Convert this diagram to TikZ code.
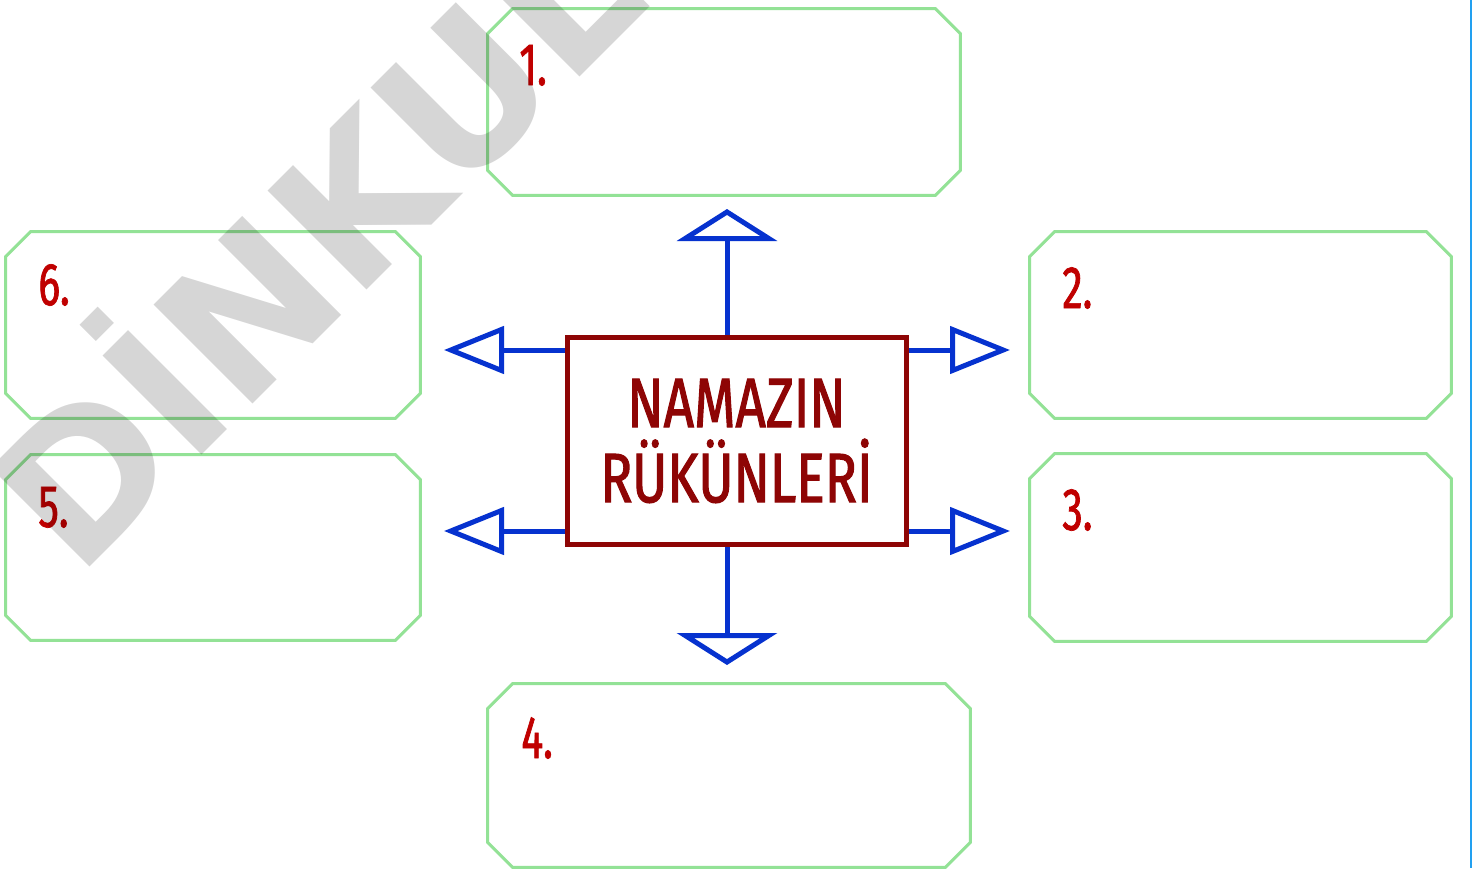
\documentclass[tikz,border=0pt]{standalone}
\usepackage{fontspec}
\setmainfont{Fira Sans}
\newfontfamily\titlefont[FakeStretch=0.76,FakeBold=1.5]{Fira Sans}
\newfontfamily\numfont[FakeStretch=0.68,FakeBold=1.2]{Fira Sans}
\newfontfamily\wmfont{DejaVu Sans}
\usetikzlibrary{arrows.meta}
\definecolor{boxgreen}{HTML}{93E296}
\definecolor{darkred}{HTML}{8E0505}
\definecolor{numred}{HTML}{C00000}
\definecolor{arrblue}{HTML}{0632CF}
\definecolor{edgeblue}{HTML}{22A0F0}
\newcommand\chamfbox[2]{%
  \draw[ansline] ([xshift=#2]#1.north west) -- ([xshift=-#2]#1.north east)
    -- ([yshift=-#2]#1.north east) -- ([yshift=#2]#1.south east)
    -- ([xshift=-#2]#1.south east) -- ([xshift=#2]#1.south west)
    -- ([yshift=#2]#1.south west) -- ([yshift=-#2]#1.north west) -- cycle;}
\begin{document}
\begin{tikzpicture}[x=0.5pt,y=-0.5pt,
  slot/.style={rectangle, inner sep=0pt, draw=none},
  ansline/.style={draw=boxgreen, line width=1.5pt, line join=miter},
  numlab/.style={font=\numfont\fontsize{30}{30}\selectfont, text=numred, inner sep=0pt, anchor=base west},
  hub/.style={rectangle, draw=darkred, line width=2.5pt, fill=white, inner sep=0pt,
    minimum width=169.5pt, minimum height=103.5pt, align=center, text=darkred,
    font=\titlefont\fontsize{35}{37.5}\selectfont},
  hconn/.style={draw=arrblue, line width=2.5pt, -{Triangle[open, length=30pt, width=23.5pt]}},
  vconn/.style={draw=arrblue, line width=2.5pt, -{Triangle[open, length=16pt, width=50pt]}},
  wm/.style={font=\wmfont\bfseries\fontsize{96}{96}\selectfont, text=black, text opacity=0.16,
    rotate=45, anchor=base west, inner sep=0pt}]
\useasboundingbox (0,0) rectangle (1473,868);
\fill[white] (0,0) rectangle (1473,868);
\draw[edgeblue, line width=1pt] (1471,0) -- (1471,868);

% answer boxes
\node[slot, minimum width=236pt, minimum height=93pt] (b1) at (724,102) {};
\node[slot, minimum width=210.5pt, minimum height=93pt] (b2) at (1240.5,325) {};
\node[slot, minimum width=210.5pt, minimum height=93.5pt] (b3) at (1240.5,547.5) {};
\node[slot, minimum width=241pt, minimum height=91.5pt] (b4) at (729,775.5) {};
\node[slot, minimum width=207pt, minimum height=92.5pt] (b5) at (213,547.5) {};
\node[slot, minimum width=207pt, minimum height=93pt] (b6) at (213,325) {};
\chamfbox{b1}{12.5pt}
\chamfbox{b2}{12.5pt}
\chamfbox{b3}{12.5pt}
\chamfbox{b4}{12.5pt}
\chamfbox{b5}{12.5pt}
\chamfbox{b6}{12.5pt}

\node[numlab] (n1) at (519,85) {1.};
\node[numlab] (n2) at (1062,308) {2.};
\node[numlab] (n3) at (1062,530) {3.};
\node[numlab] (n4) at (521,758) {4.};
\node[numlab] (n5) at (38,527) {5.};
\node[numlab] (n6) at (38,305) {6.};

% central node
\node[hub] (c) at (736.5,441) {NAMAZIN\\RÜKÜNLERİ};

% arrow tips
\coordinate (tU) at (727,209);
\coordinate (tD) at (727,665);
\coordinate (tL1) at (444,350);
\coordinate (tL2) at (444,531);
\coordinate (tR1) at (1010,350);
\coordinate (tR2) at (1010,531);
\draw[vconn] (c.north -| tU) -- (tU);
\draw[vconn] (c.south -| tD) -- (tD);
\draw[hconn] (c.west |- tL1) -- (tL1);
\draw[hconn] (c.west |- tL2) -- (tL2);
\draw[hconn] (c.east |- tR1) -- (tR1);
\draw[hconn] (c.east |- tR2) -- (tR2);

% watermark
\node[wm] (mark) at (77,580) {DİNKUL};
\end{tikzpicture}
\end{document}
